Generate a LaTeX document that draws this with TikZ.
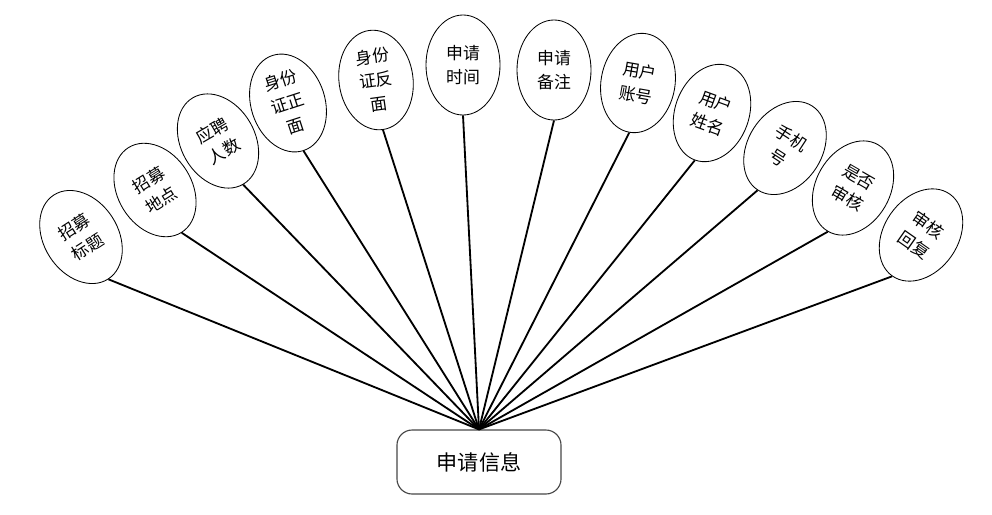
\documentclass[tikz,border=0pt]{standalone}
\usepackage{fontspec}
\setmainfont{Noto Sans CJK SC}
\usepackage{tikz}
\usetikzlibrary{shapes.geometric}
\definecolor{BoxGray}{RGB}{70, 70, 70}

\begin{document}
\begin{tikzpicture}[
    x=0.025cm, y=-0.025cm,
    attr/.style={
      ellipse, draw=black, line width=0.6pt, inner sep=0pt,
      minimum width=1.85cm, minimum height=2.5cm,
      font=\fontsize{12}{17}\selectfont, align=center
    },
    entity/.style={
      rectangle, rounded corners=0.38cm,
      draw=BoxGray, line width=0.8pt,
      minimum width=4.1cm, minimum height=1.6cm,
      font=\fontsize{15}{18}\selectfont
    },
    link/.style={line width=1.3pt, color=black}
  ]
    \useasboundingbox (0,0) rectangle (992,514);

    \node[entity] (info) at (479,462) {申请信息};

    \node[attr, rotate=33]  (title)   at (81,237)  {招募\\标题};
    \node[attr, rotate=32]  (place)   at (155,190) {招募\\地点};
    \node[attr, rotate=30]  (count)   at (218,141) {应聘\\人数};
    \node[attr, rotate=18]  (idfront) at (288,103) {身份\\证正\\面};
    \node[attr, rotate=8]   (idback)  at (376,80)  {身份\\证反\\面};
    \node[attr]             (time)    at (463,65)  {申请\\时间};
    \node[attr]             (note)    at (554,70)  {申请\\备注};
    \node[attr, rotate=-10] (account) at (638,83)  {用户\\账号};
    \node[attr, rotate=-20] (uname)   at (712,113) {用户\\姓名};
    \node[attr, rotate=-33] (phone)   at (785,148) {手机\\号};
    \node[attr, rotate=-30] (checked) at (853,188) {是否\\审核};
    \node[attr, rotate=-35] (reply)   at (921,235) {审核\\回复};

    \draw[link] (title.south)   -- (info.north);
    \draw[link] (place.south)   -- (info.north);
    \draw[link] (count.south)   -- (info.north);
    \draw[link] (idfront.south) -- (info.north);
    \draw[link] (idback.south)  -- (info.north);
    \draw[link] (time.south)    -- (info.north);
    \draw[link] (note.south)    -- (info.north);
    \draw[link] (account.south) -- (info.north);
    \draw[link] (uname.south)   -- (info.north);
    \draw[link] (phone.south)   -- (info.north);
    \draw[link] (checked.south) -- (info.north);
    \draw[link] (reply.south)   -- (info.north);
  \end{tikzpicture}
\end{document}
